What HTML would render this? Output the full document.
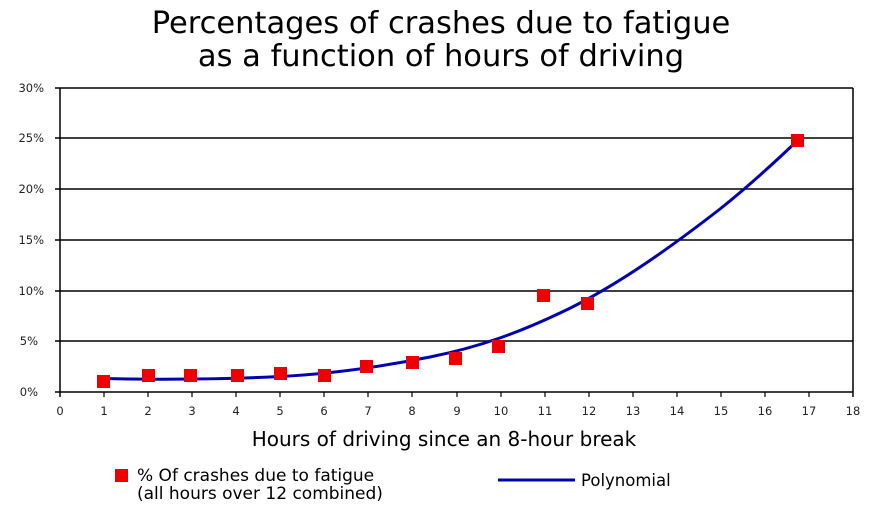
<!DOCTYPE html>
<html><head><meta charset="utf-8"><style>
html,body{margin:0;padding:0;background:#fff;}
svg{display:block;font-family:"DejaVu Sans","Liberation Sans",sans-serif;}
</style></head><body>
<svg width="869" height="512" viewBox="0 0 869 512">
<text x="441" y="33" font-size="30.5" text-anchor="middle" fill="#000">Percentages of crashes due to fatigue</text>
<text x="441" y="66" font-size="30.5" text-anchor="middle" fill="#000">as a function of hours of driving</text>
<g stroke="#000" stroke-width="1.5">
<line x1="55" y1="88" x2="853" y2="88"/>
<line x1="55" y1="138" x2="853" y2="138"/>
<line x1="55" y1="189" x2="853" y2="189"/>
<line x1="55" y1="240" x2="853" y2="240"/>
<line x1="55" y1="291" x2="853" y2="291"/>
<line x1="55" y1="341" x2="853" y2="341"/>
<line x1="55" y1="392" x2="853" y2="392"/>
<line x1="60" y1="88" x2="60" y2="397"/>
<line x1="853" y1="88" x2="853" y2="397"/>
</g>
<g stroke="#000" stroke-width="1.2">
<line x1="104" y1="392" x2="104" y2="397"/><line x1="148" y1="392" x2="148" y2="397"/><line x1="192" y1="392" x2="192" y2="397"/><line x1="236" y1="392" x2="236" y2="397"/><line x1="280" y1="392" x2="280" y2="397"/><line x1="324" y1="392" x2="324" y2="397"/><line x1="368" y1="392" x2="368" y2="397"/><line x1="412" y1="392" x2="412" y2="397"/><line x1="457" y1="392" x2="457" y2="397"/><line x1="501" y1="392" x2="501" y2="397"/><line x1="545" y1="392" x2="545" y2="397"/><line x1="589" y1="392" x2="589" y2="397"/><line x1="633" y1="392" x2="633" y2="397"/><line x1="677" y1="392" x2="677" y2="397"/><line x1="721" y1="392" x2="721" y2="397"/><line x1="765" y1="392" x2="765" y2="397"/><line x1="809" y1="392" x2="809" y2="397"/>
</g>
<g font-size="11.5" fill="#222" text-anchor="end">
<text x="44" y="92">30%</text><text x="44" y="142">25%</text><text x="44" y="193">20%</text><text x="44" y="244">15%</text><text x="44" y="295">10%</text><text x="38" y="345">5%</text><text x="38" y="396">0%</text>
</g>
<g font-size="11.5" fill="#222" text-anchor="middle">
<text x="60" y="415">0</text><text x="104" y="415">1</text><text x="148" y="415">2</text><text x="192" y="415">3</text><text x="236" y="415">4</text><text x="280" y="415">5</text><text x="324" y="415">6</text><text x="368" y="415">7</text><text x="412" y="415">8</text><text x="457" y="415">9</text><text x="501" y="415">10</text><text x="545" y="415">11</text><text x="589" y="415">12</text><text x="633" y="415">13</text><text x="677" y="415">14</text><text x="721" y="415">15</text><text x="765" y="415">16</text><text x="809" y="415">17</text><text x="853" y="415">18</text>
</g>
<text x="444" y="446" font-size="20" text-anchor="middle" fill="#000">Hours of driving since an 8-hour break</text>
<path d="M104,378.5 C160,380 230,379 280,376.5 C330,374 380,367 430,357 C480,347 520,332 560,313 C620,285 680,240 720,209 C750,185 775,162 797,141" fill="none" stroke="#0000b0" stroke-width="3"/>
<g fill="#ee0000">
<rect x="97" y="375" width="13" height="13"/><rect x="142" y="369" width="13" height="13"/><rect x="184" y="369" width="13" height="13"/><rect x="231" y="369" width="13" height="13"/><rect x="274" y="367" width="13" height="13"/><rect x="318" y="369" width="13" height="13"/><rect x="360" y="360" width="13" height="13"/><rect x="406" y="356" width="13" height="13"/><rect x="449" y="352" width="13" height="13"/><rect x="492" y="340" width="13" height="13"/><rect x="537" y="289" width="13" height="13"/><rect x="581" y="297" width="13" height="13"/><rect x="791" y="134" width="13" height="13"/>
</g>
<rect x="115" y="469" width="13" height="13" fill="#ee0000"/>
<text x="137" y="481" font-size="17" fill="#000">% Of crashes due to fatigue</text>
<text x="137" y="499" font-size="17" fill="#000">(all hours over 12 combined)</text>
<line x1="498" y1="480" x2="575" y2="480" stroke="#0000b0" stroke-width="3"/>
<text x="581" y="486" font-size="16.5" fill="#000">Polynomial</text>
</svg>
</body></html>
